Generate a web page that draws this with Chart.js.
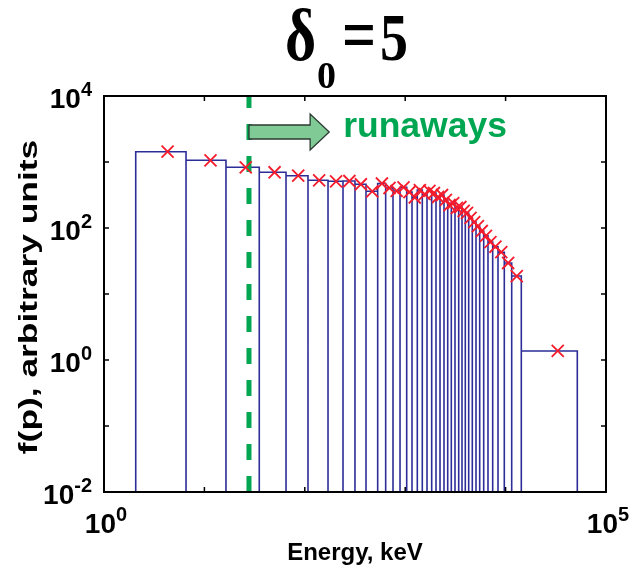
<!DOCTYPE html>
<html>
<head>
<meta charset="utf-8">
<script src="https://cdn.jsdelivr.net/npm/chart.js@4.4.1/dist/chart.umd.min.js"></script>
<style>
  html, body { margin: 0; padding: 0; background: #fff; }
  canvas { display: block; }
</style>
</head>
<body>
<canvas id="spectrum" width="641" height="578"></canvas>
<script>
// histogram bin edges, keV
const binEdges = [2.07, 6.56, 16.4, 35.2, 65.0, 107.6, 170.3, 240.2, 316, 407, 532, 639, 756, 888,
  1035, 1169, 1320, 1480, 1649, 1836, 2027, 2222, 2435, 2651, 2879, 3133, 3411, 3679, 3968, 4290,
  4659, 5073, 5521, 6051, 6678, 7437, 8402, 9707, 11501, 14337, 51780];
// f(p) for each bin, arbitrary units
const binCounts = [1432, 1062, 831, 699, 620, 528, 510, 515, 460, 360, 472, 404, 364, 414, 351,
  290, 376, 327, 364, 339, 295, 316, 266, 223, 239, 201, 208, 181, 169, 142,
  123, 107, 90, 76, 61, 52, 43, 29.5, 18.7, 1.37];
// energy at which each bin's marker is plotted
const markerEnergy = [4.3, 11.5, 25.8, 50, 86, 139, 205, 278, 362, 470, 586, 698, 822, 962,
  1102, 1245, 1400, 1565, 1743, 1932, 2125, 2329, 2543, 2765, 3006, 3272, 3545, 3824, 4129, 4475,
  4866, 5297, 5786, 6365, 7058, 7920, 9055, 10604, 12919, 33058];

// decades carrying tick marks / labels
const xDecades = [0, 1, 2, 3, 4, 5];
const yDecades = [-2, -1, 0, 1, 2, 3, 4];
const xLabelDecades = [0, 5];
const yLabelDecades = [-2, 0, 2, 4];

// runaway threshold and the arrow pointing past it
const runawayEnergy = 27.8;
const arrowHeadEnergy = 113;
const arrowTipEnergy = 175;
const arrowLevel = 2850;
const runawayLabelEnergy = 241;

const yMin = 1e-2, yMax = 1e4;
const barColor = '#2d2d98';
const markColor = '#f41c2c';
const green = '#00a651';

// closed outline of the bars: up the left edge, over the top, down the right edge
let outline = [];
for (let i = 0; i < binCounts.length; i++) {
  outline.push({ x: binEdges[i], y: yMin });
  outline.push({ x: binEdges[i], y: binCounts[i] });
  outline.push({ x: binEdges[i + 1], y: binCounts[i] });
  outline.push({ x: binEdges[i + 1], y: yMin });
}
let markers = markerEnergy.map((e, i) => ({ x: e, y: binCounts[i] }));

const SANS = '"Liberation Sans", Arial, sans-serif';
const SERIF = '"Liberation Serif", "Times New Roman", serif';

// "10" with a raised exponent
function drawPower(ctx, exp, x, baseY, align) {
  ctx.font = 'bold 28px ' + SANS;
  let wb = ctx.measureText('10').width;
  ctx.font = 'bold 20px ' + SANS;
  let ws = ctx.measureText(String(exp)).width;
  let start = align === 'right' ? x - wb - ws : x - (wb + ws) / 2;
  ctx.textAlign = 'left';
  ctx.textBaseline = 'alphabetic';
  ctx.font = 'bold 28px ' + SANS;
  ctx.fillText('10', start, baseY);
  ctx.font = 'bold 20px ' + SANS;
  ctx.fillText(String(exp), start + wb, baseY - 12);
}

const decorations = {
  id: 'decorations',
  afterDraw(chart) {
    const ctx = chart.ctx;
    const area = chart.chartArea;
    const xs = chart.scales.x, ys = chart.scales.y;
    ctx.save();
    ctx.fillStyle = '#000';
    ctx.strokeStyle = '#000';

    // axes box
    ctx.lineWidth = 2;
    ctx.strokeRect(area.left, area.top, area.right - area.left, area.bottom - area.top);

    // inward ticks on all four sides
    ctx.lineWidth = 1.5;
    ctx.beginPath();
    xDecades.forEach(d => {
      let px = xs.getPixelForValue(Math.pow(10, d));
      ctx.moveTo(px, area.bottom); ctx.lineTo(px, area.bottom - 5);
      ctx.moveTo(px, area.top); ctx.lineTo(px, area.top + 5);
    });
    yDecades.forEach(d => {
      let py = ys.getPixelForValue(Math.pow(10, d));
      ctx.moveTo(area.left, py); ctx.lineTo(area.left + 5, py);
      ctx.moveTo(area.right, py); ctx.lineTo(area.right - 5, py);
    });
    ctx.stroke();

    // tick labels
    xLabelDecades.forEach(d => {
      drawPower(ctx, d, xs.getPixelForValue(Math.pow(10, d)) + 2, area.bottom + 41, 'center');
    });
    yLabelDecades.forEach(d => {
      drawPower(ctx, d, area.left - 12, ys.getPixelForValue(Math.pow(10, d)) + 12, 'right');
    });

    // axis titles
    ctx.font = 'bold 24px ' + SANS;
    ctx.textAlign = 'center';
    ctx.textBaseline = 'alphabetic';
    ctx.fillText('Energy, keV', 355, 560);

    ctx.save();
    ctx.translate(30, 297);
    ctx.rotate(-Math.PI / 2);
    ctx.scale(1.36, 1);
    ctx.font = 'bold 26px ' + SANS;
    ctx.textBaseline = 'middle';
    ctx.fillText('f(p), arbitrary units', 0, 0);
    ctx.restore();

    // plot title: delta_0 = 5
    ctx.textAlign = 'left';
    ctx.save();
    ctx.translate(0, 60);
    ctx.scale(1, 1.22);
    ctx.font = 'bold 60px ' + SERIF;
    ctx.fillText('\u03b4', 285, 0);
    ctx.fillText('=', 342, 0);
    ctx.font = 'bold 56px ' + SERIF;
    ctx.fillText('5', 380, 0);
    ctx.restore();
    ctx.font = 'bold 38px ' + SERIF;
    ctx.fillText('0', 317, 88);

    // arrow past the threshold
    let x0 = xs.getPixelForValue(runawayEnergy);
    let xh = xs.getPixelForValue(arrowHeadEnergy);
    let xt = xs.getPixelForValue(arrowTipEnergy);
    let yc = ys.getPixelForValue(arrowLevel);
    ctx.beginPath();
    ctx.moveTo(x0, yc - 7);
    ctx.lineTo(xh, yc - 7);
    ctx.lineTo(xh, yc - 18);
    ctx.lineTo(xt, yc);
    ctx.lineTo(xh, yc + 18);
    ctx.lineTo(xh, yc + 7);
    ctx.lineTo(x0, yc + 7);
    ctx.closePath();
    ctx.fillStyle = '#80ca96';
    ctx.fill();
    ctx.lineWidth = 1.3;
    ctx.strokeStyle = '#2a3a30';
    ctx.stroke();

    ctx.fillStyle = green;
    ctx.font = 'bold 35.5px ' + SANS;
    ctx.textBaseline = 'alphabetic';
    ctx.fillText('runaways', xs.getPixelForValue(runawayLabelEnergy), yc + 5);
    ctx.restore();
  }
};

new Chart(document.getElementById('spectrum'), {
  type: 'scatter',
  data: {
    datasets: [
      {
        data: markers,
        showLine: false,
        pointStyle: 'crossRot',
        pointRadius: 8.5,
        borderColor: markColor,
        borderWidth: 1.8,
        order: 0,
      },
      {
        // threshold, dashes start at the bottom axis
        data: [{ x: runawayEnergy, y: yMin }, { x: runawayEnergy, y: yMax }],
        showLine: true,
        pointRadius: 0,
        borderColor: green,
        borderWidth: 5,
        borderDash: [16, 16],
        order: 1,
      },
      {
        data: outline,
        showLine: true,
        pointRadius: 0,
        borderColor: barColor,
        borderWidth: 1.6,
        order: 2,
      },
    ],
  },
  options: {
    responsive: false,
    animation: false,
    layout: { padding: { left: 104, right: 35, top: 96, bottom: 86 } },
    plugins: { legend: { display: false }, tooltip: { enabled: false } },
    scales: {
      x: { type: 'logarithmic', min: 1, max: 1e5, display: false },
      y: { type: 'logarithmic', min: yMin, max: yMax, display: false },
    },
  },
  plugins: [decorations],
});
</script>
</body>
</html>
